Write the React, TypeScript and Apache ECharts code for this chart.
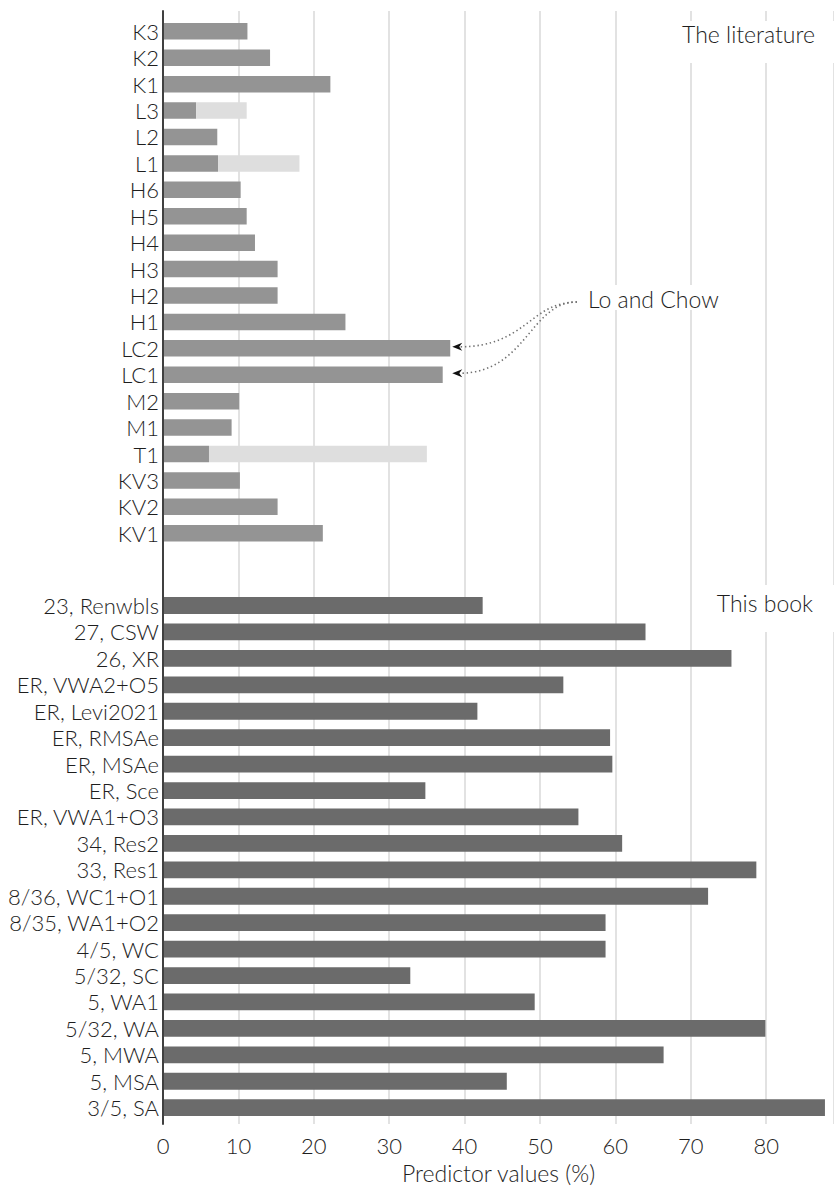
import React, { useEffect, useRef } from "react";
import * as echarts from "echarts";

// ---- Data ----
const litCategories = ["K3", "K2", "K1", "L3", "L2", "L1", "H6", "H5", "H4", "H3", "H2", "H1", "LC2", "LC1", "M2", "M1", "T1", "KV3", "KV2", "KV1"];
const litValues = [11.2, 14.2, 22.2, 4.4, 7.2, 7.3, 10.3, 11.1, 12.2, 15.2, 15.2, 24.2, 38.1, 37.1, 10.1, 9.1, 6.1, 10.2, 15.2, 21.2];
// upper end of the light range (null = no range)
const litRangeUpper: (number | null)[] = [null, null, null, 11.1, null, 18.1, null, null, null, null, null, null, null, null, null, null, 35.0, null, null, null];

const bookCategories = ["23, Renwbls", "27, CSW", "26, XR", "ER, VWA2+O5", "ER, Levi2021", "ER, RMSAe", "ER, MSAe", "ER, Sce", "ER, VWA1+O3", "34, Res2", "33, Res1", "8/36, WC1+O1", "8/35, WA1+O2", "4/5, WC", "5/32, SC", "5, WA1", "5/32, WA", "5, MWA", "5, MSA", "3/5, SA"];
const bookValues = [42.4, 64.0, 75.4, 53.1, 41.7, 59.3, 59.6, 34.8, 55.1, 60.9, 78.7, 72.3, 58.7, 58.7, 32.8, 49.3, 79.9, 66.4, 45.6, 87.8];

const xMin = 0;
const xMax = 89;
const xInterval = 10;
const xName = "Predictor values (%)";
const annotationLit = "The literature";
const annotationBook = "This book";
const annotationLC = "Lo and Chow";

const FONT = "Lato, 'Open Sans', sans-serif";
const TEXT = "#1e1e1e";
const FS = 22;

export default function App() {
  const ref = useRef<HTMLDivElement>(null);

  useEffect(() => {
    if (!ref.current) return;
    const chart = echarts.init(ref.current, null, { renderer: "svg" });
    const rangeExt = litRangeUpper.map((u, i) => (u == null ? null : +(u - litValues[i]).toFixed(2)));

    const gridX = { left: 163, width: 672 };
    const hiddenX = (gi: number) => ({ gridIndex: gi, type: "value", min: xMin, max: xMax, interval: xInterval, show: false });
    const catY = (gi: number, data: string[]) => ({
      gridIndex: gi,
      type: "category",
      data,
      inverse: true,
      axisLine: { show: false },
      axisTick: { show: false },
      splitLine: { show: false },
      axisLabel: { interval: 0, fontSize: FS, color: TEXT, margin: 4, fontFamily: FONT, fontWeight: 300 },
    });

    chart.setOption({
      animation: false,
      backgroundColor: "#fff",
      grid: [
        { ...gridX, top: 11, bottom: 60 },
        { ...gridX, top: 18.1, height: 528.4 },
        { ...gridX, top: 592.3, height: 528.6 },
      ],
      xAxis: [
        {
          gridIndex: 0,
          type: "value",
          min: xMin,
          max: xMax,
          interval: xInterval,
          axisLine: { show: false },
          axisTick: { show: false },
          splitLine: { show: true, lineStyle: { color: "#e2e2e2", width: 2 } },
          axisLabel: { fontSize: FS, color: TEXT, margin: 10, showMaxLabel: false, fontFamily: FONT, fontWeight: 300 },
          name: xName,
          nameLocation: "middle",
          nameGap: 35,
          nameTextStyle: { fontSize: 23, color: TEXT, fontFamily: FONT, fontWeight: 300 },
        },
        hiddenX(1),
        hiddenX(2),
      ],
      yAxis: [
        {
          gridIndex: 0,
          type: "value",
          min: 0,
          max: 1,
          z: 10,
          axisLine: { show: true, lineStyle: { color: "#404040", width: 2 } },
          axisTick: { show: false },
          axisLabel: { show: false },
          splitLine: { show: false },
        },
        catY(1, litCategories),
        catY(2, bookCategories),
      ],
      series: [
        {
          type: "bar",
          xAxisIndex: 1,
          yAxisIndex: 1,
          stack: "lit",
          data: litValues,
          barWidth: 16.5,
          itemStyle: { color: "#949494" },
        },
        {
          type: "bar",
          xAxisIndex: 1,
          yAxisIndex: 1,
          stack: "lit",
          data: rangeExt,
          barWidth: 16.5,
          itemStyle: { color: "#dedede" },
        },
        {
          type: "bar",
          xAxisIndex: 2,
          yAxisIndex: 2,
          data: bookValues,
          barWidth: 16.8,
          itemStyle: { color: "#6b6b6b" },
        },
      ],
    });

    // Annotations positioned from the chart's own scales
    const iLC2 = litCategories.indexOf("LC2");
    const iLC1 = litCategories.indexOf("LC1");
    const p2 = chart.convertToPixel({ gridIndex: 1 }, [litValues[iLC2], iLC2]) as number[];
    const p1 = chart.convertToPixel({ gridIndex: 1 }, [litValues[iLC1], iLC1]) as number[];
    const tipX = Math.max(p2[0], p1[0]) + 2;
    const y2 = p2[1] - 1.5;
    const y1 = p1[1] - 1.5;
    const labelLeft = 588;
    const labelY = 299;
    const sx = labelLeft - 11;
    const sy = labelY + 3;
    const ex = tipX + 7;
    const dotted = { stroke: "#707070", lineWidth: 1.6, lineDash: [1.4, 2.8], fill: null };
    const arrow = (y: number) => ({
      type: "polygon",
      z: 60,
      shape: { points: [[tipX, y], [tipX + 10, y - 4], [tipX + 7, y], [tipX + 10, y + 4]] },
      style: { fill: "#111" },
    });
    const annStyle = { fontSize: 23, fill: TEXT, fontFamily: FONT, fontWeight: 300, verticalAlign: "middle" };

    chart.setOption({
      graphic: [
        { type: "rect", z: 50, shape: { x: 680, y: 21, width: 160, height: 42 }, style: { fill: "#fff" } },
        { type: "rect", z: 50, shape: { x: 705, y: 585, width: 135, height: 47 }, style: { fill: "#fff" } },
        { type: "rect", z: 50, shape: { x: 583, y: 285, width: 138, height: 25 }, style: { fill: "#fff" } },
        { type: "text", z: 55, x: 815, y: 34, style: { ...annStyle, text: annotationLit, align: "right" } },
        { type: "text", z: 55, x: 813, y: 603, style: { ...annStyle, text: annotationBook, align: "right" } },
        { type: "text", z: 55, x: labelLeft, y: labelY, style: { ...annStyle, text: annotationLC, align: "left" } },
        {
          type: "bezierCurve", z: 55,
          shape: { x1: sx, y1: sy, cpx1: sx - 47, cpy1: sy, cpx2: ex + 67, cpy2: y2, x2: ex, y2: y2 },
          style: dotted,
        },
        {
          type: "bezierCurve", z: 55,
          shape: { x1: sx, y1: sy, cpx1: sx - 47, cpy1: sy, cpx2: ex + 67, cpy2: y1, x2: ex, y2: y1 },
          style: dotted,
        },
        arrow(y2),
        arrow(y1),
      ],
    });

    return () => chart.dispose();
  }, []);

  return <div ref={ref} style={{ position: "absolute", left: 0, top: 0, width: 834, height: 1189 }} />;
}
